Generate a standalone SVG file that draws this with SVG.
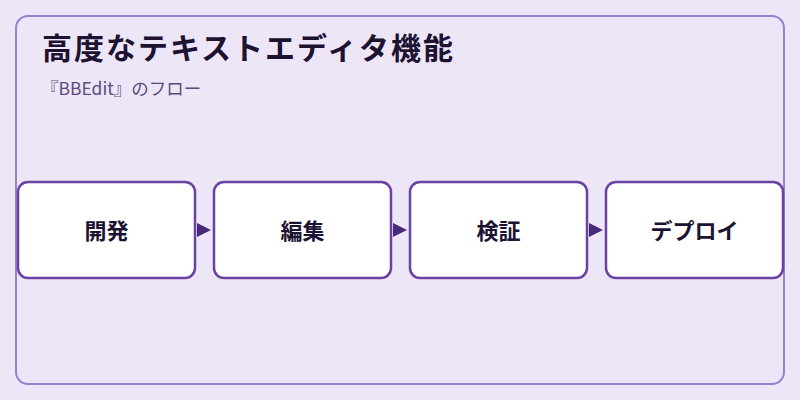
<svg xmlns="http://www.w3.org/2000/svg" width="800" height="400" viewBox="0 0 800 400">
<defs>
<style>
.bg{fill:#ede6f6}
.frame{fill:#ede6f6;stroke:#9b7fd0;stroke-width:2}
.title{font-family:"Noto Sans CJK JP","Noto Sans",sans-serif;font-weight:700;font-size:30px;fill:#1e1232;letter-spacing:2px}
.sub{font-family:"Noto Sans CJK JP","Noto Sans",sans-serif;font-size:17.5px;fill:#5c4a80}
.box{fill:#ffffff;stroke:#6b41a3;stroke-width:2.5}
.lbl{font-family:"Noto Sans CJK JP","Noto Sans",sans-serif;font-weight:700;font-size:22px;fill:#1e1232;text-anchor:middle}
.conn{stroke:#4a2a7a;stroke-width:2;fill:none}
</style>
<marker id="arr" viewBox="0 0 10 10" refX="10" refY="5" markerWidth="14" markerHeight="15" markerUnits="userSpaceOnUse" orient="auto">
<path d="M0,0 L10,5 L0,10 Z" fill="#4a2a7a"/>
</marker>
</defs>
<rect class="bg" x="0" y="0" width="800" height="400"/>
<rect class="frame" x="16" y="16" width="768" height="368" rx="12"/>
<text class="title" x="42" y="59">高度なテキストエディタ機能</text>
<text class="sub" x="41" y="95">『BBEdit』のフロー</text>
<g id="connectors">
<line class="conn" x1="197" y1="230" x2="211" y2="230" marker-end="url(#arr)" stroke-opacity="0"/>
<line class="conn" x1="393" y1="230" x2="407" y2="230" marker-end="url(#arr)" stroke-opacity="0"/>
<line class="conn" x1="589" y1="230" x2="603" y2="230" marker-end="url(#arr)" stroke-opacity="0"/>
</g>
<g id="node-dev">
<rect class="box" x="18" y="182" width="177" height="96" rx="10"/>
<text class="lbl" x="106.5" y="239">開発</text>
</g>
<g id="node-edit">
<rect class="box" x="214" y="182" width="177" height="96" rx="10"/>
<text class="lbl" x="302.5" y="239">編集</text>
</g>
<g id="node-verify">
<rect class="box" x="410" y="182" width="177" height="96" rx="10"/>
<text class="lbl" x="498.5" y="239">検証</text>
</g>
<g id="node-deploy">
<rect class="box" x="606" y="182" width="177" height="96" rx="10"/>
<text class="lbl" x="694.5" y="239">デプロイ</text>
</g>
</svg>
